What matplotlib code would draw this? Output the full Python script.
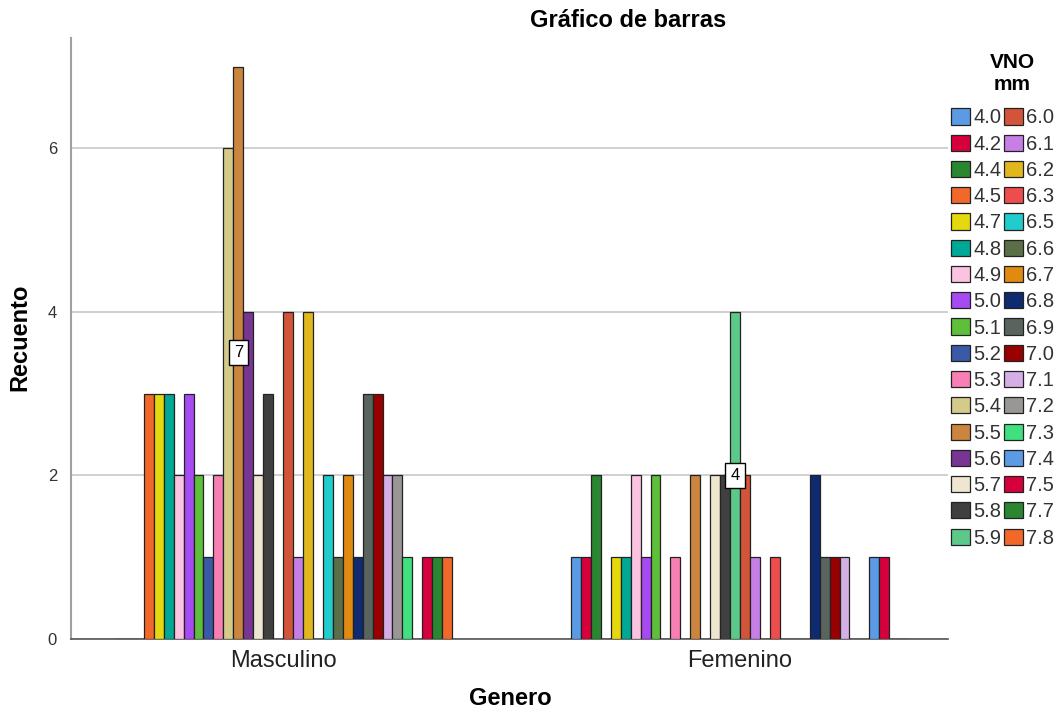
import matplotlib
matplotlib.use("Agg")
import matplotlib.pyplot as plt
import numpy as np

plt.rcParams['font.family'] = ['Liberation Sans', 'DejaVu Sans']

# categorias de VNO (mm)
vno = ['4.0', '4.2', '4.4', '4.5', '4.7', '4.8', '4.9', '5.0', '5.1', '5.2', '5.3',
       '5.4', '5.5', '5.6', '5.7', '5.8', '5.9', '6.0', '6.1', '6.2', '6.3', '6.5',
       '6.6', '6.7', '6.8', '6.9', '7.0', '7.1', '7.2', '7.3', '7.4', '7.5', '7.7', '7.8']
generos = ['Masculino', 'Femenino']

masculino = [0, 0, 0, 3, 3, 3, 2, 3, 2, 1, 2, 6, 7, 4, 2, 3, 0,
             4, 1, 4, 0, 2, 1, 2, 1, 3, 3, 2, 2, 1, 0, 1, 1, 1]
femenino = [1, 1, 2, 0, 1, 1, 2, 1, 2, 0, 1, 0, 2, 0, 2, 2, 4,
            2, 1, 0, 1, 0, 0, 0, 2, 1, 1, 1, 0, 0, 1, 1, 0, 0]

colores = ['#5b9be6', '#d6003c', '#2a8630', '#f2682a', '#e6d80e', '#00a896',
           '#fcc3e0', '#a64af2', '#5dbf3a', '#3a5aa8', '#f77fb3', '#d4cb8b',
           '#cb853f', '#783593', '#eee6d0', '#404040', '#5cc98a',
           '#d2553a', '#c77fe6', '#e0b81e', '#ee4d4d', '#21cccc', '#5a6e48',
           '#e08a10', '#0e2a70', '#5a645e', '#990000', '#d5aee6', '#9a9696',
           '#40e080', '#5b9be6', '#d6003c', '#2a8630', '#f2682a']

fig = plt.figure(figsize=(10.63, 7.28), dpi=100)
ax = fig.add_axes([0.0668, 0.1223, 0.825, 0.8255])

n = len(vno)
w = 0.02177
centros = np.arange(len(generos))
datos = np.array([masculino, femenino])

for i in range(n):
    xs = centros - n * w / 2 + (i + 0.5) * w
    alturas = datos[:, i]
    ax.bar(xs, alturas, width=w, color=colores[i], edgecolor='#222222',
           linewidth=0.9, label=vno[i], zorder=3)

# etiqueta con el maximo de cada grupo
for g in range(len(generos)):
    imax = int(np.argmax(datos[g]))
    vmax = datos[g, imax]
    xm = centros[g] - n * w / 2 + (imax + 0.5) * w
    ax.text(xm, vmax / 2, str(vmax), ha='center', va='center', fontsize=12,
            zorder=5, bbox=dict(boxstyle='square,pad=0.3', fc='white',
                                ec='black', lw=1.0))

ax.set_xlim(-0.464, 1.455)
ax.set_ylim(0, 7.35)
ax.set_yticks([0, 2, 4, 6])
ax.set_xticks(centros)
ax.set_xticklabels(generos, fontsize=17, color='#222222')
ax.tick_params(axis='y', length=0, labelsize=12, labelcolor='#333333', pad=10)
ax.tick_params(axis='x', length=0, pad=8)
ax.yaxis.grid(True, color='#c8c8c8', linewidth=1.2, zorder=0)
ax.set_axisbelow(True)

for lado in ['top', 'right']:
    ax.spines[lado].set_visible(False)
ax.spines['left'].set_color('#a0a0a0')
ax.spines['left'].set_linewidth(1.5)
ax.spines['bottom'].set_color('#555555')
ax.spines['bottom'].set_linewidth(1.2)

fig.text(0.591, 0.972, 'Gráfico de barras', ha='center', va='center',
         fontsize=17, fontweight='bold')
fig.text(0.019, 0.537, 'Recuento', ha='center', va='center', rotation=90,
         fontsize=17, fontweight='bold')
fig.text(0.48, 0.04, 'Genero', ha='center', va='center',
         fontsize=17, fontweight='bold')

# titulo de la leyenda
fig.text(0.952, 0.899, 'VNO\nmm', ha='center', va='center', fontsize=15,
         fontweight='bold', linespacing=1.15)

leg = ax.legend(loc='upper left', bbox_to_anchor=(0.8945, 0.851),
                bbox_transform=fig.transFigure, ncol=2, frameon=False,
                fontsize=14.5, borderpad=0, borderaxespad=0,
                handlelength=0.95, handleheight=0.85, handletextpad=0.15,
                columnspacing=0.12, labelspacing=0.36)
for t in leg.get_texts():
    t.set_color('#333333')

fig.savefig('out.png', dpi=100)
